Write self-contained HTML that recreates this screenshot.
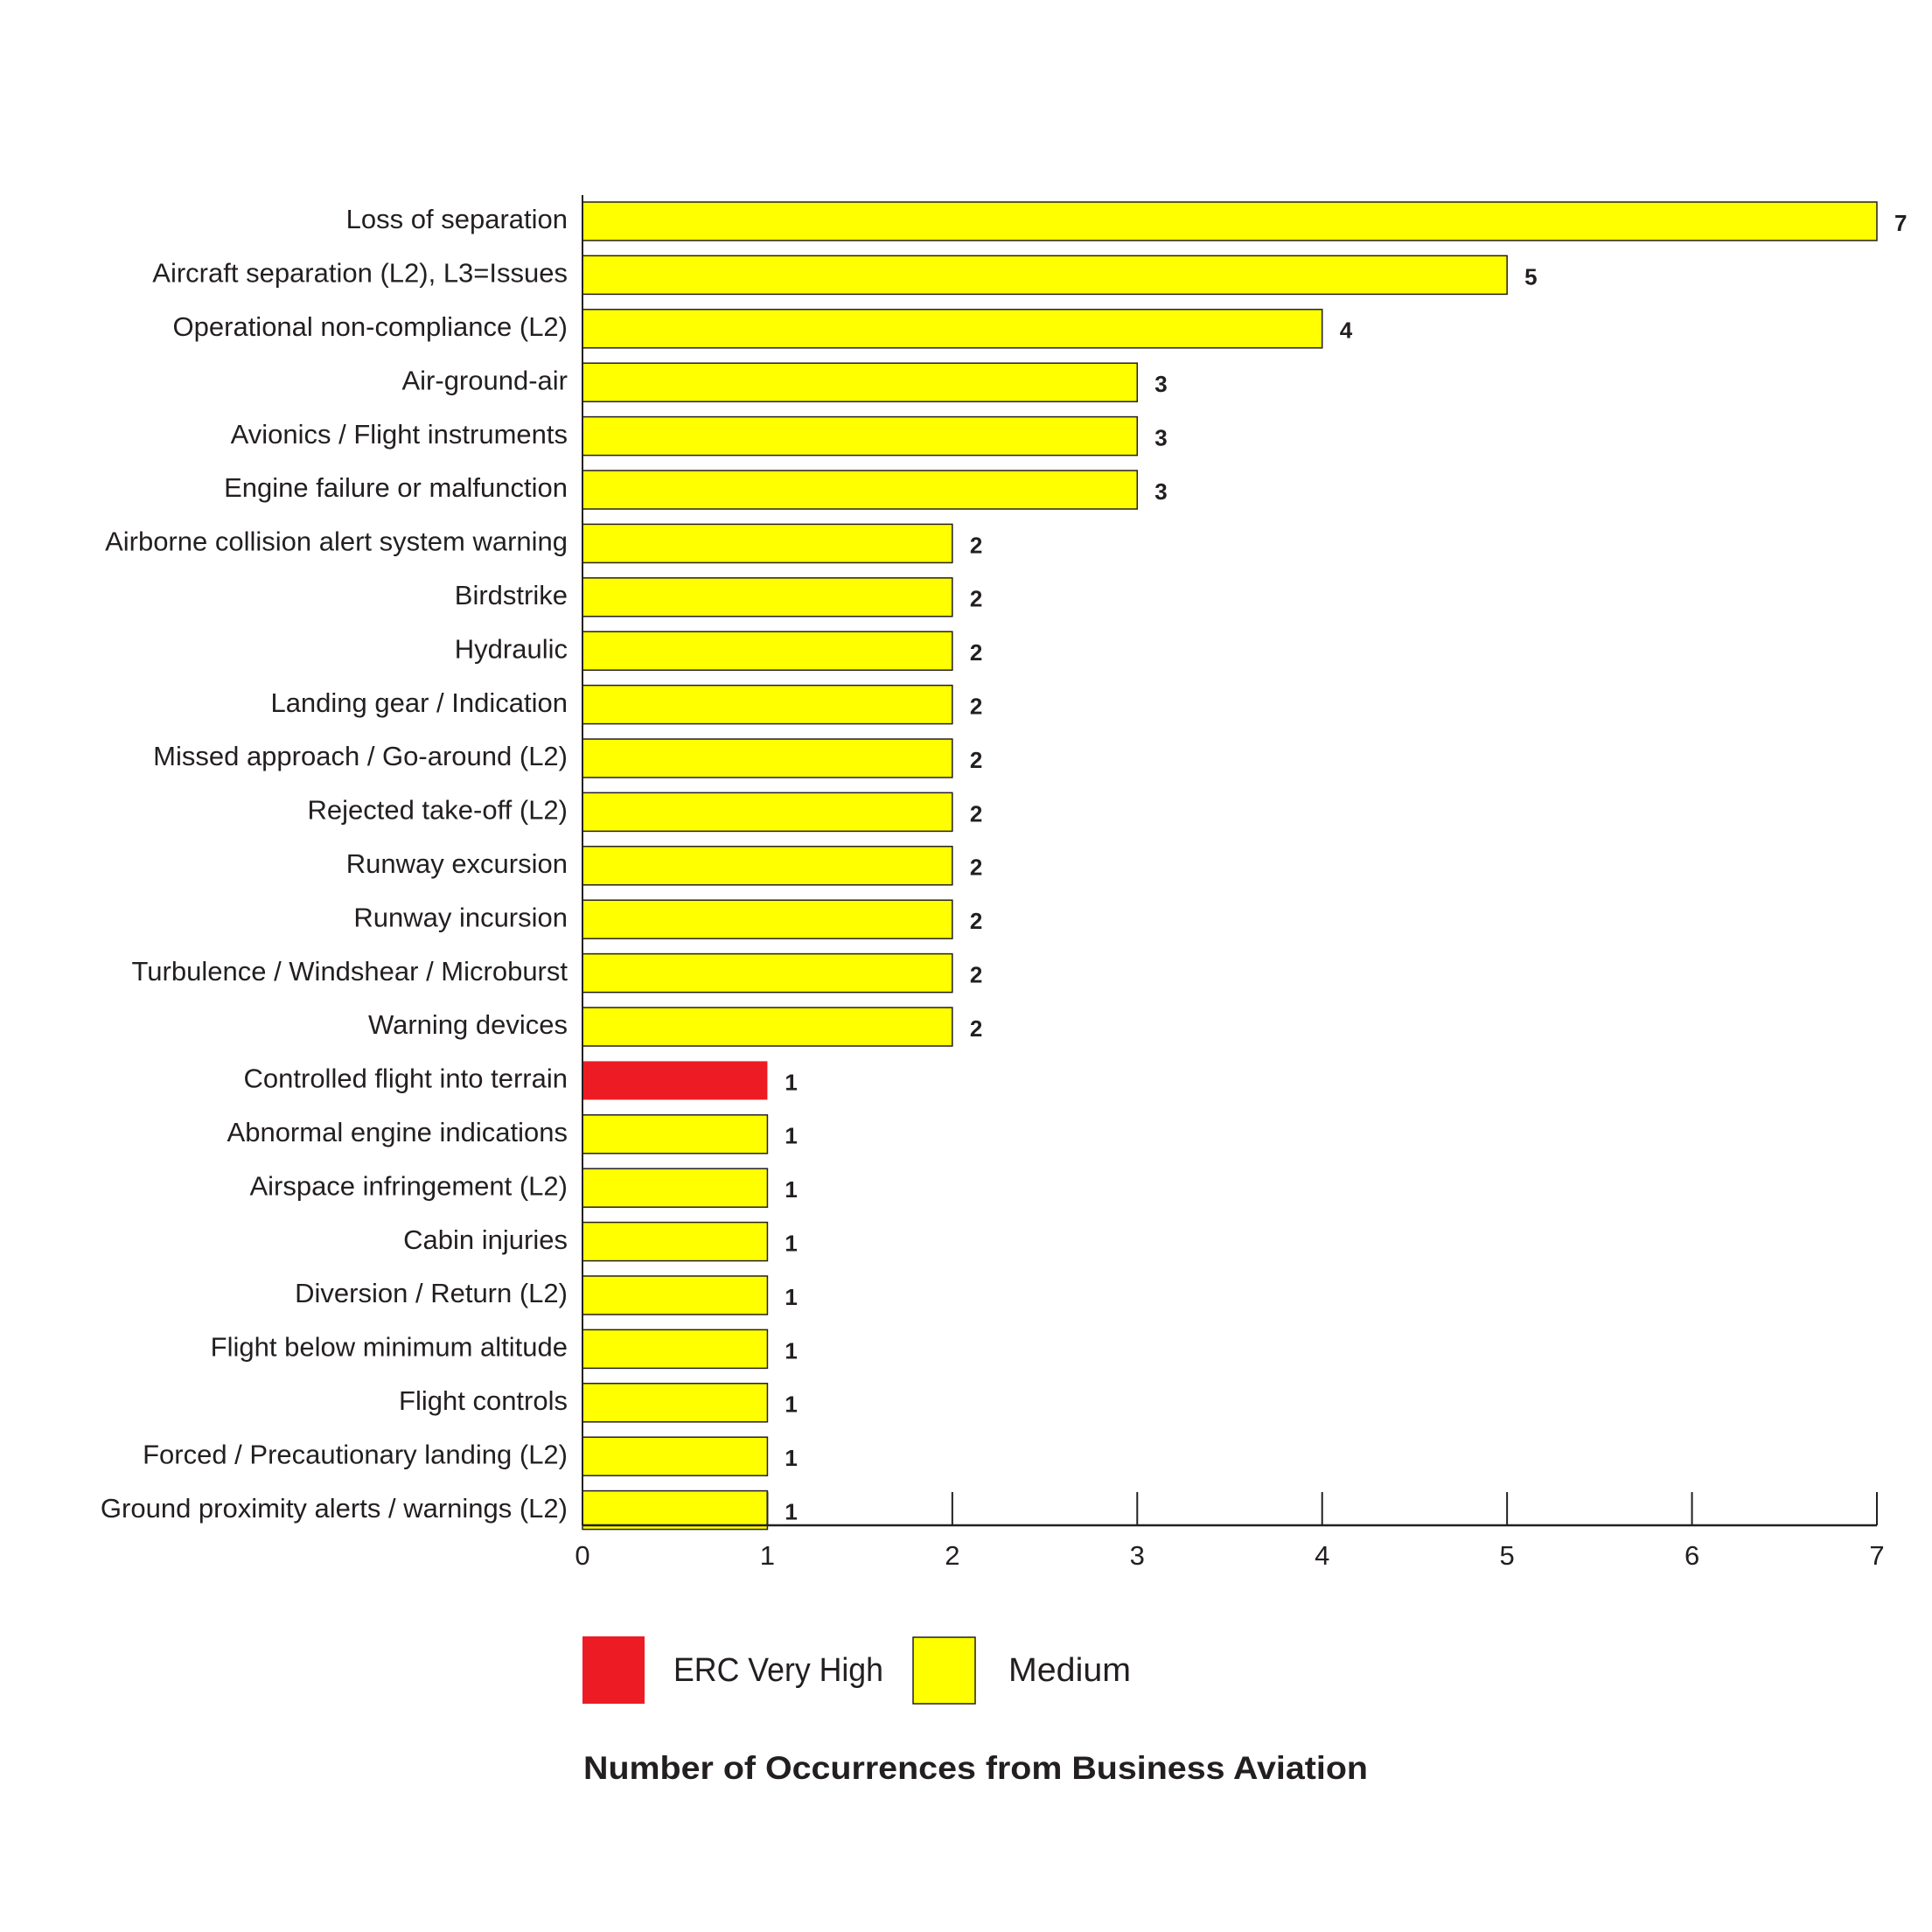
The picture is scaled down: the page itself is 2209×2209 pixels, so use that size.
<!DOCTYPE html>
<html><head><meta charset="utf-8"><style>
html,body{margin:0;padding:0;background:#fff}
svg{display:block;font-family:"Liberation Sans",sans-serif}
</style></head><body>
<svg id="chart" width="2209" height="2209" viewBox="0 0 2209 2209" xmlns="http://www.w3.org/2000/svg">
<g id="bars"></g>
<g id="axis"></g>
<g>
<rect x="666" y="1871" width="71" height="77" fill="#ed1c24"/>
<text x="770" y="1912" font-size="38" fill="#231f20" dominant-baseline="middle" textLength="240" lengthAdjust="spacingAndGlyphs">ERC Very High</text>
<rect x="1044" y="1872" width="71" height="76" fill="#ffff00" stroke="#231f20" stroke-width="1.5"/>
<text x="1153" y="1912" font-size="38" fill="#231f20" dominant-baseline="middle" textLength="140" lengthAdjust="spacingAndGlyphs">Medium</text>
</g>
<text x="667" y="2024" font-size="37" font-weight="bold" fill="#231f20" dominant-baseline="middle" textLength="897" lengthAdjust="spacingAndGlyphs">Number of Occurrences from Business Aviation</text>
</svg>
<script>
const categories = ["Loss of separation","Aircraft separation (L2), L3=Issues","Operational non-compliance (L2)","Air-ground-air","Avionics / Flight instruments","Engine failure or malfunction","Airborne collision alert system warning","Birdstrike","Hydraulic","Landing gear / Indication","Missed approach / Go-around (L2)","Rejected take-off (L2)","Runway excursion","Runway incursion","Turbulence / Windshear / Microburst","Warning devices","Controlled flight into terrain","Abnormal engine indications","Airspace infringement (L2)","Cabin injuries","Diversion / Return (L2)","Flight below minimum altitude","Flight controls","Forced / Precautionary landing (L2)","Ground proximity alerts / warnings (L2)"];
const values = [7,5,4,3,3,3,2,2,2,2,2,2,2,2,2,2,1,1,1,1,1,1,1,1,1];
const severity = ["Medium","Medium","Medium","Medium","Medium","Medium","Medium","Medium","Medium","Medium","Medium","Medium","Medium","Medium","Medium","Medium","ERC Very High","Medium","Medium","Medium","Medium","Medium","Medium","Medium","Medium"];
const tickLabels = [0,1,2,3,4,5,6,7];

const NS = "http://www.w3.org/2000/svg";
const X0 = 666, X1 = 2146, XMAX = 7;
const Y0 = 231, PITCH = 61.4, BH = 44, AXIS_Y = 1744;
function xScale(v){ return X0 + (X1 - X0) * v / XMAX; }
function yScale(i){ return Y0 + i * PITCH; }
function mk(tag, attrs){ const e = document.createElementNS(NS, tag); for (const k in attrs) e.setAttribute(k, attrs[k]); return e; }

const bars = document.getElementById("bars");
categories.forEach((c, i) => {
  const y = yScale(i);
  const red = severity[i] === "ERC Very High";
  const r = mk("rect", {x: X0, y: y, width: xScale(values[i]) - X0, height: BH, fill: red ? "#ed1c24" : "#ffff00", stroke: red ? "none" : "#231f20", "stroke-width": 1.5});
  
  
  bars.appendChild(r);
  const lab = mk("text", {x: 649, y: y + BH/2, "font-size": 31, fill: "#231f20", "text-anchor": "end", "dominant-baseline": "middle"});
  lab.textContent = c;
  
  
  bars.appendChild(lab);
  const vl = mk("text", {x: xScale(values[i]) + 20, y: y + BH/2 + 4, "font-size": 26, "font-weight": "bold", fill: "#231f20", "dominant-baseline": "middle"});
  vl.textContent = values[i];
  
  
  bars.appendChild(vl);
});

const axis = document.getElementById("axis");
const yl = mk("line", {x1: X0, y1: Y0 - 8, x2: X0, y2: AXIS_Y, stroke: "#231f20", "stroke-width": 2});


axis.appendChild(yl);
const xl = mk("line", {x1: X0, y1: AXIS_Y, x2: X1, y2: AXIS_Y, stroke: "#231f20", "stroke-width": 2.5});


axis.appendChild(xl);
tickLabels.forEach(t => {
  const x = xScale(t);
  if (t > 0) {
    const tk = mk("line", {x1: x, y1: 1706, x2: x, y2: AXIS_Y, stroke: "#231f20", "stroke-width": 2});
    
    
    axis.appendChild(tk);
  }
  const tl = mk("text", {x: x, y: 1781, "font-size": 31, fill: "#231f20", "text-anchor": "middle", "dominant-baseline": "middle"});
  tl.textContent = t;
  
  
  axis.appendChild(tl);
});
</script>
</body></html>
